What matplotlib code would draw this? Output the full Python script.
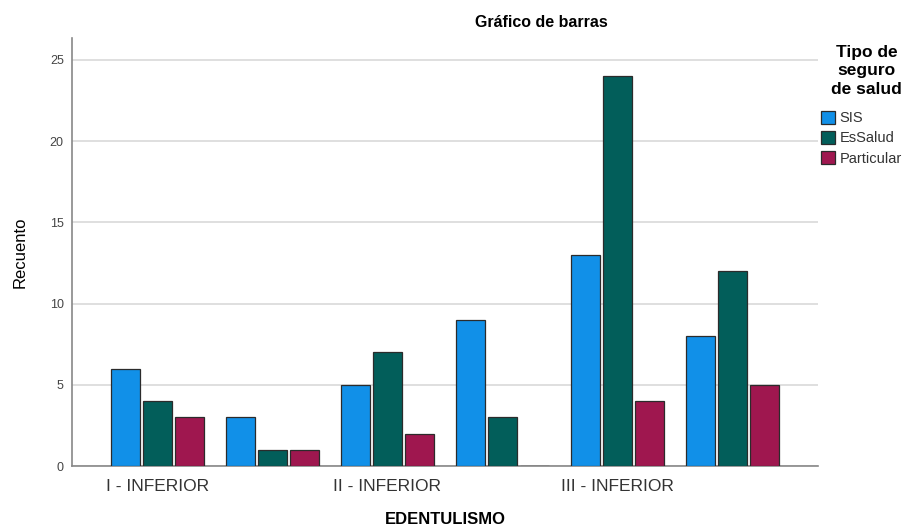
import numpy as np
import matplotlib
matplotlib.use("Agg")
import matplotlib.pyplot as plt

plt.rcParams['font.family'] = ['Liberation Sans', 'DejaVu Sans']

# data
groups = ["I - INFERIOR", "I - SUPERIOR", "II - INFERIOR", "II - SUPERIOR",
          "III - INFERIOR", "III - SUPERIOR"]
sis = [6, 3, 5, 9, 13, 8]
essalud = [4, 1, 7, 3, 24, 12]
particular = [3, 1, 2, 0, 4, 5]
series_names = ["SIS", "EsSalud", "Particular"]
colors = ["#1190e8", "#025e5a", "#9f174f"]

fig = plt.figure(figsize=(9.13, 5.28), dpi=100)
ax = fig.add_axes([0.0789, 0.1174, 0.817, 0.8106])

x = np.arange(len(groups))
w = 0.252
step = 0.277
for i, (vals, name, c) in enumerate(zip([sis, essalud, particular], series_names, colors)):
    ax.bar(x + (i - 1) * step, vals, width=w, color=c, edgecolor="#2b2b2b",
           linewidth=0.9, label=name, zorder=3)

ax.set_xlim(-0.74, 5.74)
ax.set_ylim(0, 26.35)
ax.set_yticks([0, 5, 10, 15, 20, 25])
ax.yaxis.grid(True, color="#d9d9d9", linewidth=1.2, zorder=0)
ax.set_axisbelow(True)

# only every other category label is shown in the reference
ax.set_xticks(x[::2])
ax.set_xticklabels(groups[::2], fontsize=12.5, color="#333333")
ax.tick_params(axis="x", length=0, pad=9)
ax.tick_params(axis="y", length=0, labelsize=9, labelcolor="#444444", pad=6)

for s in ["top", "right"]:
    ax.spines[s].set_visible(False)
ax.spines["left"].set_color("#888888")
ax.spines["bottom"].set_color("#888888")
ax.spines["left"].set_linewidth(1.2)
ax.spines["bottom"].set_linewidth(1.2)

ax.set_ylabel("Recuento", fontsize=12, labelpad=16)
fig.text(0.488, 0.017, "EDENTULISMO", fontsize=12, fontweight="bold", ha="center", va="center")
fig.text(0.593, 0.958, "Gráfico de barras", fontsize=11.5, fontweight="bold", ha="center", va="center")

# legend title drawn separately so it can be centred
fig.text(0.949, 0.866, "Tipo de\nseguro\nde salud", fontsize=12.5, fontweight="bold",
         ha="center", va="center", linespacing=1.3)
leg = ax.legend(loc="upper left", bbox_to_anchor=(0.899, 0.79), bbox_transform=fig.transFigure,
                frameon=False, fontsize=10.5,
                handlelength=1.0, handleheight=1.0, handletextpad=0.3, labelspacing=0.38,
                borderpad=0.0, borderaxespad=0.0)
for t in leg.get_texts():
    t.set_color("#333333")

fig.savefig("out.png", dpi=100)
